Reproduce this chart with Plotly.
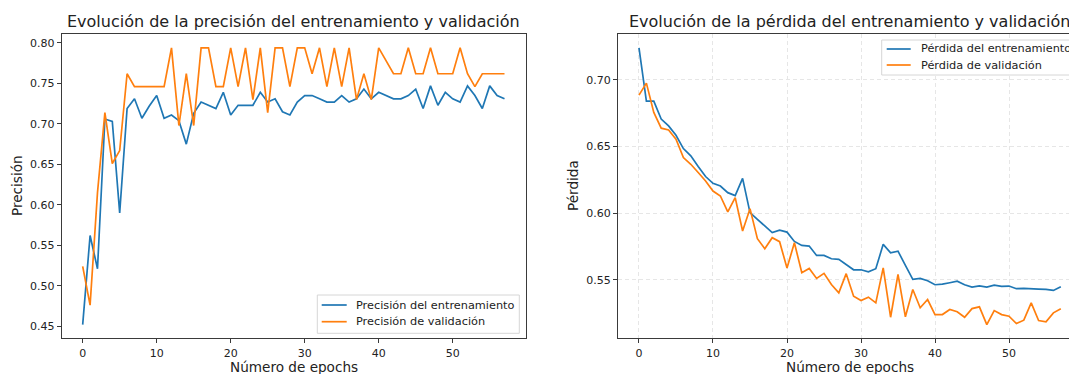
import plotly.graph_objects as go

# ---------------- data ----------------
epochs = list(range(58))

acc_train = [0.452, 0.562, 0.521, 0.706, 0.703, 0.590, 0.719, 0.731, 0.707, 0.722,
             0.735, 0.707, 0.711, 0.704, 0.675, 0.713, 0.727, 0.723, 0.719, 0.739,
             0.711, 0.723, 0.723, 0.723, 0.739, 0.727, 0.731, 0.715, 0.711, 0.727,
             0.735, 0.735, 0.731, 0.727, 0.727, 0.735, 0.727, 0.731, 0.743, 0.731,
             0.739, 0.735, 0.731, 0.731, 0.735, 0.743, 0.719, 0.747, 0.723, 0.739,
             0.731, 0.727, 0.747, 0.735, 0.719, 0.747, 0.735, 0.731]

acc_val = [0.524, 0.476, 0.615, 0.714, 0.651, 0.667, 0.762, 0.746, 0.746, 0.746,
           0.746, 0.746, 0.794, 0.698, 0.762, 0.698, 0.794, 0.794, 0.746, 0.746,
           0.794, 0.746, 0.794, 0.730, 0.794, 0.714, 0.794, 0.794, 0.746, 0.794,
           0.794, 0.762, 0.794, 0.746, 0.794, 0.746, 0.794, 0.730, 0.762, 0.730,
           0.794, 0.778, 0.762, 0.762, 0.794, 0.762, 0.762, 0.794, 0.762, 0.762,
           0.762, 0.794, 0.762, 0.746, 0.762, 0.762, 0.762, 0.762]

loss_train = [0.724, 0.684, 0.684, 0.6705, 0.6654, 0.6584, 0.6484, 0.6429, 0.6349, 0.6274,
              0.6223, 0.6203, 0.6153, 0.6131, 0.626, 0.6003, 0.5953, 0.5902, 0.5853, 0.5872,
              0.5857, 0.5787, 0.5757, 0.5752, 0.5682, 0.5682, 0.5657, 0.5652, 0.561, 0.5574,
              0.5574, 0.5559, 0.5582, 0.5765, 0.5702, 0.5714, 0.5607, 0.5502, 0.5509, 0.5492,
              0.5462, 0.5466, 0.5477, 0.5489, 0.5462, 0.5444, 0.5454, 0.5444, 0.5459, 0.5449,
              0.5452, 0.5432, 0.5434, 0.5434, 0.5429, 0.5427, 0.5419, 0.5447]

loss_val = [0.6885, 0.6975, 0.6755, 0.6637, 0.6624, 0.6554, 0.6416, 0.6366, 0.6304, 0.6241,
            0.6165, 0.6128, 0.6008, 0.6116, 0.5865, 0.6033, 0.5808, 0.5732, 0.5815, 0.5785,
            0.5587, 0.5777, 0.5552, 0.5584, 0.5509, 0.5547, 0.5464, 0.5401, 0.5545, 0.5376,
            0.5344, 0.5369, 0.5326, 0.5589, 0.5218, 0.5539, 0.5221, 0.5426, 0.5289, 0.5351,
            0.5238, 0.5238, 0.5276, 0.5259, 0.5218, 0.5283, 0.5296, 0.5163, 0.5268, 0.5238,
            0.5226, 0.5171, 0.5196, 0.5326, 0.5193, 0.5183, 0.5251, 0.5281]

title_acc = "Evolución de la precisión del entrenamiento y validación"
title_loss = "Evolución de la pérdida del entrenamiento y validación"
xlabel = "Número de epochs"
ylabel_acc = "Precisión"
ylabel_loss = "Pérdida"
names_acc = ["Precisión del entrenamiento", "Precisión de validación"]
names_loss = ["Pérdida del entrenamiento", "Pérdida de validación"]

# ---------------- layout geometry (pixels) ----------------
W, H = 1069, 374
L1, R1 = 61.6, 525.6          # left axes
L2, R2 = 617.9, 1081.9        # right axes (cropped by figure edge)
TOP, BOT = 34.0, 338.4

BLUE, ORANGE = "#1f77b4", "#ff7f0e"
FONT = "DejaVu Sans"
TXT = "#222222"
SPINE = "#3a3a3a"


def padded(vals, frac=0.05):
    lo, hi = min(vals), max(vals)
    p = (hi - lo) * frac
    return [lo - p, hi + p]


xr = padded(epochs)
vis_frac = (W - L2) / (R2 - L2)
xr2 = [xr[0], xr[0] + (xr[1] - xr[0]) * vis_frac]

fig = go.Figure()
series = [
    (acc_train, names_acc[0], BLUE, "x", "y"),
    (acc_val, names_acc[1], ORANGE, "x", "y"),
    (loss_train, names_loss[0], BLUE, "x2", "y2"),
    (loss_val, names_loss[1], ORANGE, "x2", "y2"),
]
for vals, name, col, xa, ya in series:
    fig.add_trace(go.Scatter(x=epochs, y=vals, mode="lines", name=name,
                             line=dict(color=col, width=1.7), xaxis=xa, yaxis=ya,
                             showlegend=False))

tickfont = dict(family=FONT, size=11, color=TXT)
common_axis = dict(showline=True, linecolor=SPINE, linewidth=1, ticks="outside", ticklen=4,
                   tickcolor=SPINE, tickwidth=1, tickfont=tickfont, zeroline=False)
grid = dict(showgrid=True, gridcolor="#e6e6e6", gridwidth=0.8, griddash="4px,3px")

ydom = [1 - BOT / H, 1 - TOP / H]

fig.update_layout(
    width=W, height=H,
    margin=dict(l=0, r=0, t=0, b=0, autoexpand=False),
    paper_bgcolor="white", plot_bgcolor="white",
    font=dict(family=FONT, size=11, color=TXT),
    xaxis=dict(domain=[L1 / W, R1 / W], range=xr, dtick=10, tick0=0, mirror=True,
               showgrid=False, anchor="y", **common_axis),
    yaxis=dict(domain=ydom, range=padded(acc_train + acc_val), dtick=0.05, tick0=0,
               tickformat=".2f", mirror=True, showgrid=False, anchor="x", **common_axis),
    xaxis2=dict(domain=[L2 / W, 1.0], range=xr2, dtick=10, tick0=0, mirror=True,
                anchor="y2", **grid, **common_axis),
    yaxis2=dict(domain=ydom, range=padded(loss_train + loss_val), dtick=0.05, tick0=0,
                tickformat=".2f", mirror=False, anchor="x2", **grid, **common_axis),
    showlegend=False,
)

ann = []
shapes = []


def text(t, x, y, size, xanchor="center", angle=0):
    ann.append(dict(text=t, x=x / W, y=1 - y / H, xref="paper", yref="paper",
                    xanchor=xanchor, yanchor="middle", showarrow=False, textangle=angle,
                    font=dict(family=FONT, size=size, color=TXT)))


# titles & axis labels
text(title_acc, (L1 + R1) / 2, 21.5, 16)
text(title_loss, (L2 + R2) / 2, 21.5, 16)
text(xlabel, (L1 + R1) / 2, 366.5, 13.6)
text(xlabel, (L2 + R2) / 2, 366.5, 13.6)
text(ylabel_acc, 17, 186, 13.6, angle=-90)
text(ylabel_loss, 573, 186, 13.6, angle=-90)


# manual legends (matplotlib style)
def legend(box, handle_x0, handle_x1, text_x, rows_y, names, colors):
    x0, y0, x1, y1 = box
    shapes.append(dict(type="rect", xref="paper", yref="paper",
                       x0=x0 / W, x1=x1 / W, y0=1 - y1 / H, y1=1 - y0 / H,
                       line=dict(color="#d6d6d6", width=1), fillcolor="rgba(255,255,255,0.85)",
                       layer="above"))
    for ry, nm, col in zip(rows_y, names, colors):
        shapes.append(dict(type="line", xref="paper", yref="paper",
                           x0=handle_x0 / W, x1=handle_x1 / W, y0=1 - ry / H, y1=1 - ry / H,
                           line=dict(color=col, width=1.7), layer="above"))
        text(nm, text_x, ry, 11.3, xanchor="left")


legend((317.3, 295.0, 519.3, 333.3), 321.7, 346.7, 354.0, (305.0, 321.7),
       names_acc, (BLUE, ORANGE))
legend((881.7, 40.0, 1090.0, 75.0), 886.7, 910.7, 918.5, (49.0, 65.0),
       names_loss, (BLUE, ORANGE))

fig.update_layout(annotations=ann, shapes=shapes)

fig.write_html("out.html")
